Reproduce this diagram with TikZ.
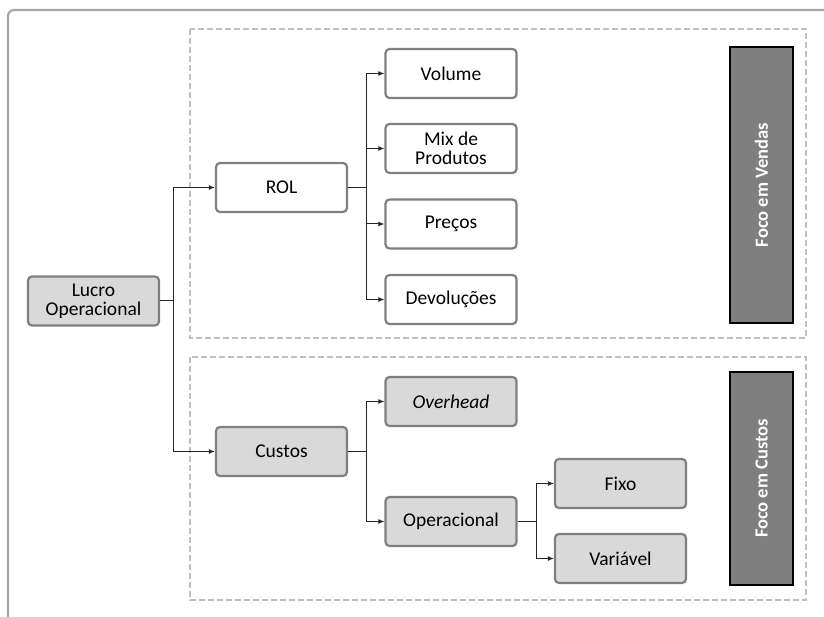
\documentclass[tikz,border=0pt]{standalone}
\usepackage{fontspec}
\setmainfont{Carlito}
\usetikzlibrary{arrows.meta}
\definecolor{boxline}{HTML}{7F7F7F}
\definecolor{boxfill}{HTML}{D9D9D9}
\definecolor{dashline}{HTML}{BFBFBF}
\definecolor{frameline}{HTML}{A6A6A6}
\definecolor{barfill}{HTML}{7F7F7F}
\begin{document}
\begin{tikzpicture}[x=1pt,y=-1pt,
  every node/.style={font=\fontsize{19.5}{22}\selectfont},
  itembox/.style={draw=boxline,line width=2.2pt,rounded corners=4pt,fill=white,
    minimum width=131pt,minimum height=49pt,inner sep=2pt,align=center},
  greybox/.style={itembox,fill=boxfill},
  focusbar/.style={draw=black,line width=2.2pt,fill=barfill,rotate=90,
    minimum height=63pt,text=white,font=\fontsize{18.5}{21}\selectfont\bfseries},
  zone/.style={draw=dashline,line width=2pt,dash pattern=on 6pt off 3pt},
  conn/.style={draw=black!85,line width=1pt},
  arr/.style={conn,-{Latex[length=6pt,width=5pt]}}
]
\useasboundingbox (0,0) rectangle (824,617);
\begin{scope}
\clip (0,0) rectangle (824,617);
\draw[frameline,line width=2.2pt,rounded corners=6pt] (8,10) rectangle (860,660);
\end{scope}
\draw[zone] (190,29) rectangle (806,338);
\draw[zone] (190,357) rectangle (806,600);

\node[greybox] (lucro) at (93.5,301) {Lucro\\[-3pt]Operacional};
\node[itembox] (rol) at (281.5,187.5) {ROL};
\node[greybox] (custos) at (281.5,451.5) {Custos};
\node[itembox] (volume) at (451,73.5) {Volume};
\node[itembox] (mix) at (451,148.5) {Mix de\\[-3pt]Produtos};
\node[itembox] (precos) at (451,224) {Preços};
\node[itembox] (devol) at (451,299.5) {Devoluções};
\node[greybox] (overhead) at (451,401.5) {\itshape Overhead};
\node[greybox] (operac) at (451,521.5) {Operacional};
\node[greybox] (fixo) at (620.5,483.5) {Fixo};
\node[greybox] (variavel) at (620.5,558.5) {Variável};
\node[focusbar,minimum width=276pt] (vendas) at (761.5,185) {Foco em Vendas};
\node[focusbar,minimum width=213pt] (fcustos) at (761.5,478.5) {Foco em Custos};

\coordinate (j1) at (173,301);
\coordinate (j2) at (366.5,187.5);
\coordinate (j3) at (366.5,451.5);
\coordinate (j4) at (536,521.5);

\draw[conn] (lucro.east) -- (j1);
\draw[arr] (j1) |- (rol);
\draw[arr] (j1) |- (custos);
\draw[conn] (rol.east) -- (j2);
\draw[arr] (j2) |- (volume);
\draw[arr] (j2) |- (mix);
\draw[arr] (j2) |- (precos);
\draw[arr] (j2) |- (devol);
\draw[conn] (custos.east) -- (j3);
\draw[arr] (j3) |- (overhead);
\draw[arr] (j3) |- (operac);
\draw[conn] (operac.east) -- (j4);
\draw[arr] (j4) |- (fixo);
\draw[arr] (j4) |- (variavel);
\end{tikzpicture}
\end{document}
